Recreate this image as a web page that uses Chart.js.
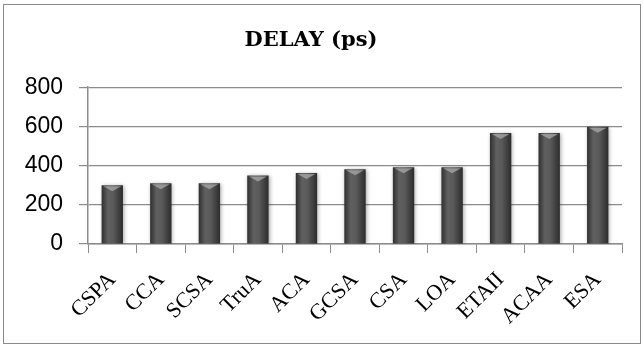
<!DOCTYPE html>
<html>
<head>
<meta charset="utf-8">
<script src="https://cdn.jsdelivr.net/npm/chart.js@4.4.1/dist/chart.umd.min.js"></script>
<style>
  html, body { margin: 0; padding: 0; background: #fff; }
  #wrap { width: 644px; height: 347px; position: relative; }
</style>
</head>
<body>
<div id="wrap"><canvas id="delay"></canvas></div>
<script>
// data
const categories = ['CSPA', 'CCA', 'SCSA', 'TruA', 'ACA', 'GCSA', 'CSA', 'LOA', 'ETAII', 'ACAA', 'ESA'];
const delayPs = [300, 310, 310, 350, 362, 382, 392, 392, 566, 566, 598];
const yTicks = [0, 200, 400, 600, 800];

const BAR_PCT = 0.44;
const gridGrey = '#8c8c8c';

// cylinder-ish shading for each bar, left to right
function barFill(ctx) {
  const chart = ctx.chart;
  const x = chart.scales && chart.scales.x;
  if (!x || ctx.dataIndex === undefined || !x.width) return '#505050';
  const cx = x.getPixelForValue(ctx.dataIndex);
  const w = x.width / categories.length * BAR_PCT;
  const g = chart.ctx.createLinearGradient(cx - w / 2, 0, cx + w / 2, 0);
  g.addColorStop(0, '#2f2f2f');
  g.addColorStop(0.3, '#606060');
  g.addColorStop(0.55, '#5a5a5a');
  g.addColorStop(1, '#2c2c2c');
  return g;
}

const framePlugin = {
  id: 'frame',
  beforeDraw(chart) {
    const c = chart.ctx;
    c.save();
    c.fillStyle = '#fff';
    c.fillRect(0, 0, chart.width, chart.height);
    c.strokeStyle = '#8a8a8a';
    c.lineWidth = 1;
    c.strokeRect(3.5, 4.5, chart.width - 7, chart.height - 8);
    c.restore();
  },
  beforeDatasetsDraw(chart) {
    const c = chart.ctx;
    c.save();
    c.shadowColor = 'rgba(0,0,0,0.35)';
    c.shadowBlur = 4;
    c.shadowOffsetX = 1;
    c.shadowOffsetY = 1;
  },
  afterDatasetsDraw(chart) {
    const c = chart.ctx;
    c.restore();
    // lighter cap at the top of each bar
    chart.getDatasetMeta(0).data.forEach(el => {
      const w = el.width;
      c.save();
      c.fillStyle = 'rgba(170,170,170,0.75)';
      c.beginPath();
      c.moveTo(el.x - w * 0.42, el.y + 1);
      c.lineTo(el.x + w * 0.42, el.y + 1);
      c.lineTo(el.x, el.y + 6);
      c.closePath();
      c.fill();
      c.restore();
    });
  }
};

new Chart(document.getElementById('delay'), {
  type: 'bar',
  data: {
    labels: categories,
    datasets: [{
      label: 'DELAY (ps)',
      data: delayPs,
      backgroundColor: barFill,
      borderWidth: 0,
      barPercentage: BAR_PCT,
      categoryPercentage: 1
    }]
  },
  options: {
    responsive: true,
    maintainAspectRatio: false,
    animation: false,
    layout: { padding: { top: 4, right: 22, bottom: 0, left: 0 } },
    plugins: {
      legend: { display: false },
      tooltip: { enabled: false },
      title: {
        display: true,
        text: 'DELAY (ps)',
        color: '#000',
        font: { family: 'DejaVu Serif', size: 21, weight: 'bold' },
        padding: { top: 24, bottom: 34 }
      }
    },
    scales: {
      x: {
        offset: true,
        grid: {
          display: true,
          offset: true,
          drawOnChartArea: false,
          drawTicks: true,
          tickLength: 9,
          color: gridGrey
        },
        border: { display: true, color: gridGrey, width: 1.5 },
        ticks: {
          autoSkip: false,
          maxRotation: 45,
          minRotation: 45,
          padding: 14,
          color: '#000',
          font: { family: 'Liberation Serif', size: 22 }
        },
        afterFit(scale) { scale.height = 103; }
      },
      y: {
        min: 0,
        max: 800,
        afterBuildTicks(scale) { scale.ticks = yTicks.map(v => ({ value: v })); },
        grid: { color: gridGrey, lineWidth: 1.2, tickLength: 9 },
        border: { display: true, color: gridGrey, width: 1.5 },
        ticks: {
          padding: 16,
          color: '#000',
          font: { family: 'Liberation Sans', size: 23 }
        },
        afterFit(scale) { scale.width = 88; }
      }
    }
  },
  plugins: [framePlugin]
});
</script>
</body>
</html>
